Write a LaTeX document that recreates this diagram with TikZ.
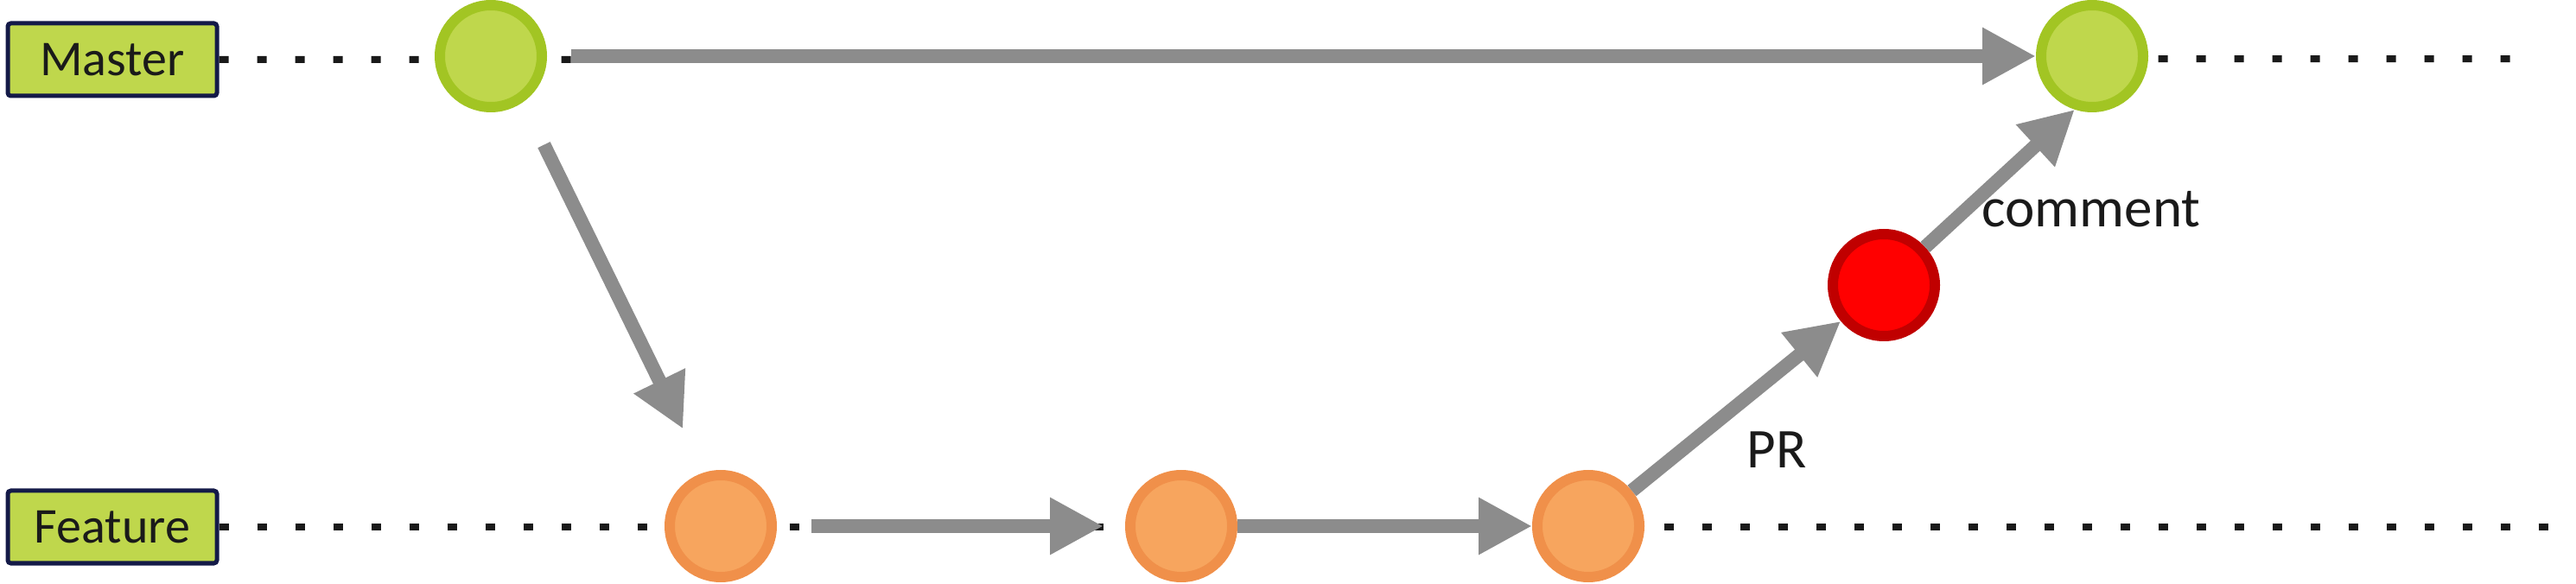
\documentclass[tikz,border=0pt]{standalone}
\usepackage{fontspec}
\setmainfont{Carlito}
\usetikzlibrary{arrows.meta}
\definecolor{leaf}{HTML}{BFD74C}
\definecolor{leafdk}{HTML}{A2C523}
\definecolor{peach}{HTML}{F7A55E}
\definecolor{peachdk}{HTML}{F0904A}
\definecolor{cherry}{HTML}{FF0000}
\definecolor{cherrydk}{HTML}{C00000}
\definecolor{slate}{HTML}{8C8C8C}
\definecolor{ink}{HTML}{1A1A1A}
\definecolor{midnight}{HTML}{141A48}

\tikzset{
  branch/.style={rectangle, draw=midnight, line width=0.05cm, fill=leaf, rounded corners=1pt,
    minimum width=2.42cm, minimum height=0.84cm, inner sep=0pt, text=ink,
    font=\fontsize{16.5}{18}\selectfont},
  commit/.style={circle, line width=0.12cm, minimum size=1.18cm, inner sep=0pt},
  track/.style={ink, line width=0.08cm, dash pattern=on 0.11cm off 0.33cm},
  flow/.style={slate, line width=0.16cm, -{Triangle[length=0.62cm, width=0.62cm]}},
  tag/.style={text=ink, inner sep=0pt, font=\fontsize{18.5}{20}\selectfont},
}

\begin{document}
\begin{tikzpicture}
\useasboundingbox (0,0) rectangle (29.81,6.75);

% Branch labels
\node[branch] (master) at (1.30,6.06) {Master};
\node[branch] (feature) at (1.30,0.65) {Feature};

% Ends of the branch lines
\coordinate (mend) at (29.28,6.07);
\coordinate (fend) at (29.72,0.65);

% Branch lines (behind the commits)
\draw[track] (master.east) -- (mend);
\draw[track] (feature.east) -- (fend);

% Commits
\node[commit, draw=leafdk, fill=leaf] (mc1) at (5.68,6.10) {};
\node[commit, draw=leafdk, fill=leaf] (mc2) at (24.21,6.10) {};
\foreach \n/\x in {fc1/8.34, fc2/13.67, fc3/18.38} {
  \node[commit, draw=peachdk, fill=peach] (\n) at (\x,0.66) {};
}
\node[commit, draw=cherrydk, fill=cherry] (rc) at (21.80,3.45) {};

% Arrows
\draw[flow, shorten <=0.28cm] (mc1) -- (mc2);
\draw[flow, shorten <=0.55cm, shorten >=0.56cm] (mc1.-55) -- (fc1.107);
\draw[flow, shorten <=0.40cm, shorten >=0.25cm] (fc1) -- (fc2);
\draw[flow] (fc2) -- (fc3);
\draw[flow] (fc3) -- (rc.220);
\draw[flow] (rc) -- (mc2.252);

% Labels
\node[tag, anchor=base west] (lblpr) at (20.21,1.33) {PR};
\node[tag, anchor=base west] (lblcomment) at (22.93,4.12) {comment};

\end{tikzpicture}
\end{document}
